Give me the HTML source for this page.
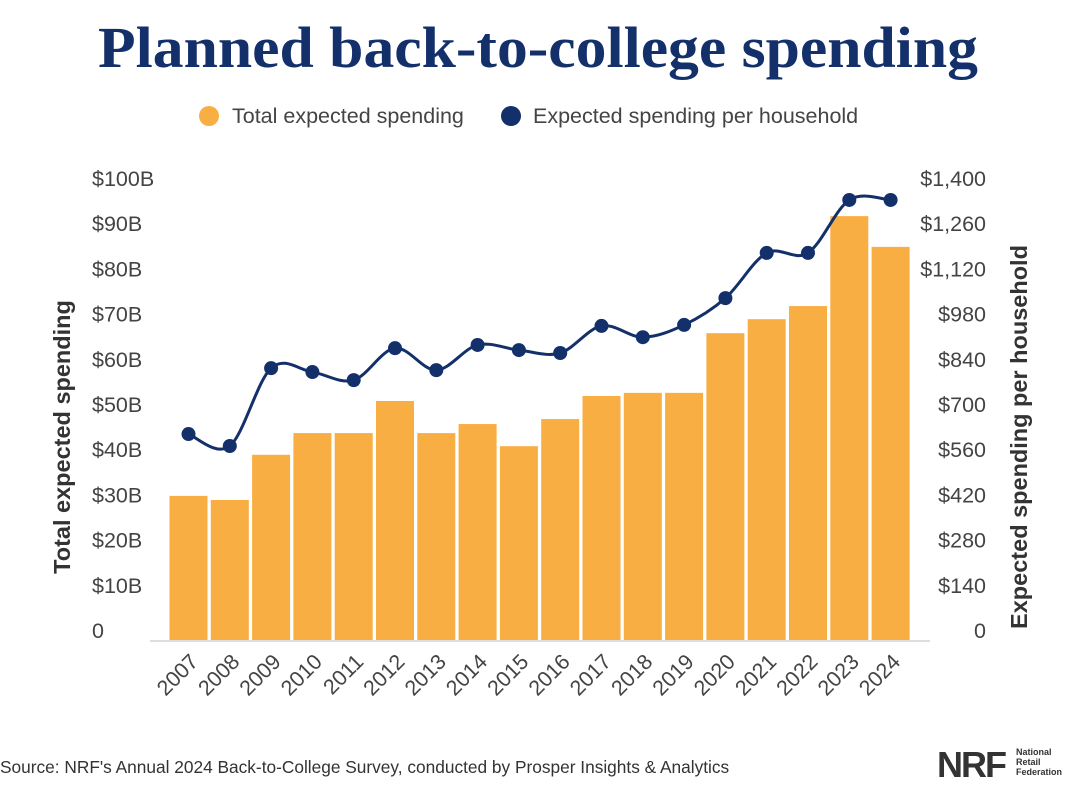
<!DOCTYPE html>
<html><head><meta charset="utf-8"><style>
body{margin:0;background:#fff;width:1080px;height:780px;overflow:hidden;font-family:"Liberation Sans",sans-serif}
</style></head><body>
<svg width="1080" height="780">
<text x="538" y="67" text-anchor="middle" font-family="Liberation Serif,serif" font-weight="bold" font-size="58" fill="#13306b" textLength="880" lengthAdjust="spacingAndGlyphs">Planned back-to-college spending</text>
<g>
<circle cx="209" cy="116" r="10" fill="#f9ae43"/>
<text x="232" y="123" font-size="21.5" fill="#444">Total expected spending</text>
<circle cx="511" cy="116" r="10" fill="#13306b"/>
<text x="533" y="123" font-size="21.5" fill="#444">Expected spending per household</text>
</g>
<text transform="translate(70,437) rotate(-90)" text-anchor="middle" font-size="23.5" font-weight="bold" fill="#333">Total expected spending</text>
<text transform="translate(1027,437) rotate(-90)" text-anchor="middle" font-size="23.5" font-weight="bold" fill="#333">Expected spending per household</text>
<g id="plot"></g>
<text x="0" y="773" font-size="17.3" fill="#333">Source: NRF's Annual 2024 Back-to-College Survey, conducted by Prosper Insights &amp; Analytics</text>
<text x="937" y="777" font-size="36" font-weight="bold" fill="#333" letter-spacing="-2">NRF</text>
<text x="1016" y="755" font-size="9" font-weight="bold" fill="#333"><tspan x="1016">National</tspan><tspan x="1016" dy="10">Retail</tspan><tspan x="1016" dy="10">Federation</tspan></text>
</svg>
<script>
const years=["2007","2008","2009","2010","2011","2012","2013","2014","2015","2016","2017","2018","2019","2020","2021","2022","2023","2024"];
const totals=[32.1,31.2,41.2,46,46,53.1,46,48,43.1,49.1,54.2,54.9,54.9,68.1,71.2,74.1,94,87.2];
const perHousehold=[641,604,845,833,808,907,839,917,901,892,976,941,979,1062,1202,1202,1366,1366];
const leftTicks=["0","$10B","$20B","$30B","$40B","$50B","$60B","$70B","$80B","$90B","$100B"];
const rightTicks=["0","$140","$280","$420","$560","$700","$840","$980","$1,120","$1,260","$1,400"];
const NS="http://www.w3.org/2000/svg";
const g=document.getElementById('plot');
const base=641,pxPerB=4.52;
const yL=v=>base-v*pxPerB;
const yR=v=>base-v/1400*100*pxPerB;
const xC=i=>188.5+i*41.3;
function mk(t,a){const e=document.createElementNS(NS,t);for(const k in a)e.setAttribute(k,a[k]);g.appendChild(e);return e;}
leftTicks.forEach((t,i)=>{const e=mk('text',{x:92,y:yL(i*10)-3,'font-size':21.5,fill:'#444'});e.textContent=t;

});
rightTicks.forEach((t,i)=>{const e=mk('text',{x:986,y:yL(i*10)-3,'font-size':21.5,fill:'#444','text-anchor':'end'});e.textContent=t;

});
totals.forEach((v,i)=>{const r=mk('rect',{x:xC(i)-19,y:yL(v),width:38,height:base-yL(v),fill:'#f9ae43'});


const t=mk('text',{transform:`translate(${xC(i)+11},${base+22}) rotate(-45)`,'text-anchor':'end','font-size':21.5,fill:'#444'});t.textContent=years[i];

});
const bl=mk('line',{x1:150,x2:930,y1:base,y2:base,stroke:'#ddd','stroke-width':2});


const pts=perHousehold.map((v,i)=>[xC(i),yR(v)]);
let d=`M${pts[0][0]},${pts[0][1]}`;
for(let i=0;i<pts.length-1;i++){const p0=pts[i-1]||pts[i],p1=pts[i],p2=pts[i+1],p3=pts[i+2]||p2;
d+=` C${p1[0]+(p2[0]-p0[0])/6},${p1[1]+(p2[1]-p0[1])/6} ${p2[0]-(p3[0]-p1[0])/6},${p2[1]-(p3[1]-p1[1])/6} ${p2[0]},${p2[1]}`;}
const ln=mk('path',{d:d,fill:'none',stroke:'#13306b','stroke-width':3});


pts.forEach((p,i)=>{const c=mk('circle',{cx:p[0],cy:p[1],r:7,fill:'#13306b'});

});
</script>
</body></html>
